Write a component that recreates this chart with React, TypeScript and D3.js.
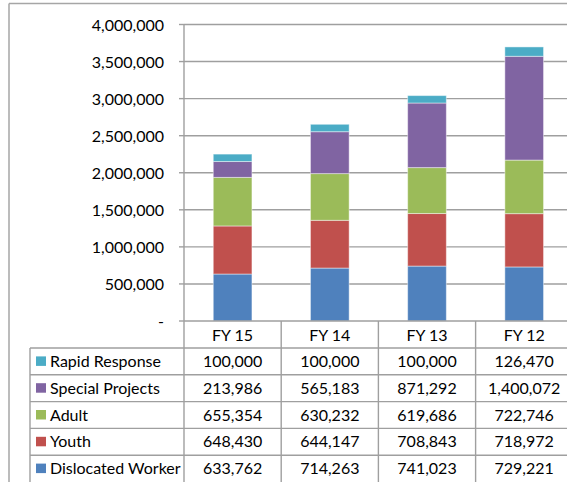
import React from "react";
import * as d3 from "d3";

const categories = ["FY 15", "FY 14", "FY 13", "FY 12"];
const seriesNames = ["Dislocated Worker", "Youth", "Adult", "Special Projects", "Rapid Response"];
const dislocatedWorker = [633762, 714263, 741023, 729221];
const youth = [648430, 644147, 708843, 718972];
const adult = [655354, 630232, 619686, 722746];
const specialProjects = [213986, 565183, 871292, 1400072];
const rapidResponse = [100000, 100000, 100000, 126470];
const seriesColors = ["#4F81BD", "#C0504D", "#9BBB59", "#8064A2", "#4BACC6"];
const yTicks = [0, 500000, 1000000, 1500000, 2000000, 2500000, 3000000, 3500000, 4000000];

const W = 567;
const H = 482;
const FONT = "Lato, 'Liberation Sans', sans-serif";
const FS = 16;

export default function App() {
  const seriesValues = [dislocatedWorker, youth, adult, specialProjects, rapidResponse];
  const rows = categories.map((c, i) => {
    const r: Record<string, any> = { cat: c };
    seriesNames.forEach((s, j) => (r[s] = seriesValues[j][i]));
    return r;
  });
  const stacked = d3.stack<any>().keys(seriesNames)(rows);

  const plotLeft = 184;
  const step = 97.2;
  const x = d3.scaleBand<string>().domain(categories).range([plotLeft, plotLeft + step * categories.length]).padding(0);
  const y = d3.scaleLinear().domain([0, 4000000]).range([321, 24.5]);
  const barW = x.bandwidth() * 0.398;
  const fmt = d3.format(",");

  const tableTop = y(0);
  const headerH = 27;
  const rowH = 26.8;
  const tableLeft = 30;
  const tableRows = [...seriesNames].reverse();
  const gridColor = "#9f9f9f";

  return (
    <svg width={W} height={H} style={{ position: "absolute", left: 0, top: 0, background: "#fff" }} fontFamily={FONT}>
      <rect x={0} y={0} width={W} height={H} fill="#fff" />
      {/* outer frame */}
      <line x1={9} x2={W} y1={3.5} y2={3.5} stroke="#a6a6a6" strokeWidth={1.5} />
      <line x1={9} x2={9} y1={3.5} y2={H} stroke="#a6a6a6" strokeWidth={1.5} />

      {/* gridlines */}
      {yTicks.filter((t) => t > 0).map((t) => (
        <line key={t} x1={plotLeft} x2={W} y1={y(t)} y2={y(t)} stroke={gridColor} strokeWidth={1.4} />
      ))}
      {/* ticks */}
      {yTicks.map((t) => (
        <line key={"tk" + t} x1={plotLeft - 5} x2={plotLeft} y1={y(t)} y2={y(t)} stroke={gridColor} strokeWidth={1.4} />
      ))}
      {/* y labels */}
      {yTicks.map((t) => (
        <text key={"lb" + t} x={164} y={y(t) - 0.5} textAnchor="end" dominantBaseline="central" fontSize={FS} fill="#000">
          {t === 0 ? "-" : fmt(t)}
        </text>
      ))}

      {/* bars */}
      {stacked.map((layer, j) =>
        layer.map((d, i) => {
          const cx = (x(categories[i]) as number) + x.bandwidth() / 2;
          return (
            <rect
              key={j + "-" + i}
              x={cx - barW / 2}
              y={y(d[1])}
              width={barW}
              height={y(d[0]) - y(d[1])}
              fill={seriesColors[j]}
              stroke="#ffffff"
              strokeOpacity={0.45}
              strokeWidth={1}
            />
          );
        })
      )}

      {/* axis lines */}
      <line x1={plotLeft} x2={plotLeft} y1={y(4000000)} y2={H} stroke={gridColor} strokeWidth={1.4} />
      <line x1={plotLeft} x2={W} y1={tableTop} y2={tableTop} stroke={gridColor} strokeWidth={1.4} />

      {/* table */}
      {categories.map((c, i) => (
        <g key={"col" + c}>
          <line
            x1={(x(c) as number) + x.bandwidth()}
            x2={(x(c) as number) + x.bandwidth()}
            y1={tableTop}
            y2={H}
            stroke={gridColor}
            strokeWidth={1.4}
          />
          <text
            x={(x(c) as number) + x.bandwidth() / 2}
            y={tableTop + headerH / 2 - 0.5}
            textAnchor="middle"
            dominantBaseline="central"
            fontSize={FS}
            fill="#000"
          >
            {c}
          </text>
        </g>
      ))}
      <line x1={tableLeft} x2={tableLeft} y1={tableTop + headerH} y2={H} stroke={gridColor} strokeWidth={1.4} />
      {tableRows.map((s, r) => {
        const top = tableTop + headerH + r * rowH;
        const j = seriesNames.indexOf(s);
        return (
          <g key={"row" + s}>
            <line x1={tableLeft} x2={W} y1={top} y2={top} stroke={gridColor} strokeWidth={1.4} />
            <rect x={36} y={top + rowH / 2 - 5} width={10} height={9.5} fill={seriesColors[j]} />
            <text x={50} y={top + rowH / 2 - 1} dominantBaseline="central" fontSize={FS} fill="#000">
              {s}
            </text>
            {categories.map((c, i) => (
              <text
                key={c}
                x={(x(c) as number) + x.bandwidth() / 2}
                y={top + rowH / 2 - 1}
                textAnchor="middle"
                dominantBaseline="central"
                fontSize={FS}
                fill="#000"
              >
                {fmt(seriesValues[j][i])}
              </text>
            ))}
          </g>
        );
      })}
    </svg>
  );
}
